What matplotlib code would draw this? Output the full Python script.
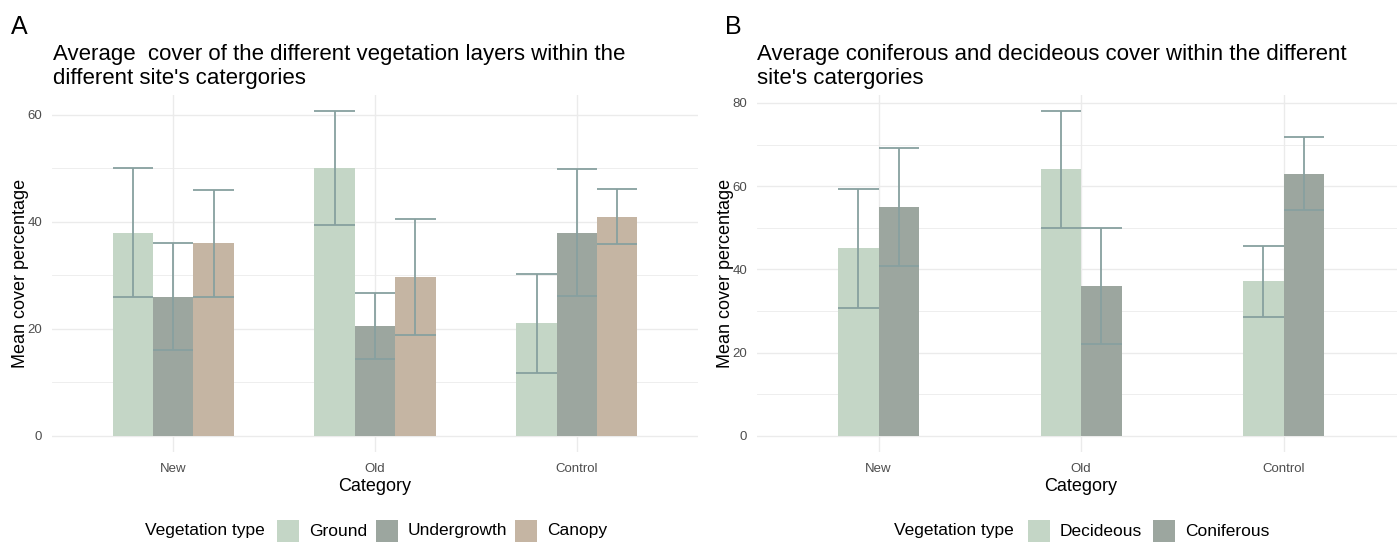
import matplotlib
matplotlib.use("Agg")
import matplotlib.pyplot as plt
from matplotlib.patches import Rectangle
import numpy as np

plt.rcParams['font.family'] = ['Liberation Sans', 'DejaVu Sans']

# ---- data ----
categories = ["New", "Old", "Control"]

layers = ["Ground", "Undergrowth", "Canopy"]
layer_means = {
    "Ground":      [38.0, 50.1, 21.0],
    "Undergrowth": [26.0, 20.5, 38.0],
    "Canopy":      [36.0, 29.7, 41.0],
}
layer_err = {
    "Ground":      [12.0, 10.6, 9.3],
    "Undergrowth": [10.0, 6.2, 11.9],
    "Canopy":      [10.0, 10.8, 5.1],
}

tree_types = ["Decideous", "Coniferous"]
tree_means = {
    "Decideous":  [45.1, 64.0, 37.1],
    "Coniferous": [55.0, 36.0, 63.0],
}
tree_err = {
    "Decideous":  [14.3, 14.0, 8.6],
    "Coniferous": [14.2, 14.0, 8.7],
}

colors = {
    "Ground": "#c4d6c6", "Undergrowth": "#9ca69f", "Canopy": "#c5b5a3",
    "Decideous": "#c4d6c6", "Coniferous": "#9ca69f",
}
err_color = "#87a09f"
grid_color = "#ebebeb"
tick_color = "#4d4d4d"

W, H = 1397, 542
fig = plt.figure(figsize=(W / 100, H / 100), dpi=100)


def px_box(x0, x1, ytop, ybot):
    return [x0 / W, 1 - ybot / H, (x1 - x0) / W, (ybot - ytop) / H]


def draw_panel(ax, groups, means, errs, ymax_major):
    n = len(groups)
    bw = 0.2
    x = np.arange(1, len(categories) + 1)
    offsets = (np.arange(n) - (n - 1) / 2) * bw
    tops = []
    for g, off in zip(groups, offsets):
        m = np.array(means[g])
        e = np.array(errs[g])
        ax.bar(x + off, m, width=bw, color=colors[g], zorder=2, linewidth=0)
        tops.append(m + e)
    for g, off in zip(groups, offsets):
        m = np.array(means[g])
        e = np.array(errs[g])
        xc = x + off
        ax.vlines(xc, m - e, m + e, color=err_color, lw=1.3, zorder=3)
        ax.hlines(m - e, xc - bw / 2, xc + bw / 2, color=err_color, lw=1.3, zorder=3)
        ax.hlines(m + e, xc - bw / 2, xc + bw / 2, color=err_color, lw=1.3, zorder=3)
    top = max(t.max() for t in tops)
    pad = 0.05 * top
    ax.set_ylim(-pad, top + pad)
    ax.set_xlim(0.4, len(categories) + 0.6)
    majors = np.arange(0, ymax_major + 1, 20)
    minors = np.arange(10, top + pad, 20)
    ax.set_yticks(majors)
    ax.set_yticks(minors, minor=True)
    ax.set_xticks(x)
    ax.set_xticklabels(categories)
    ax.grid(True, which="major", color=grid_color, lw=1.0, zorder=0)
    ax.grid(True, which="minor", axis="y", color=grid_color, lw=0.6, zorder=0)
    ax.set_axisbelow(True)
    for s in ax.spines.values():
        s.set_visible(False)
    ax.tick_params(which="both", length=0, colors=tick_color, labelsize=9.5)
    ax.tick_params(axis="y", pad=7)
    ax.tick_params(axis="x", pad=8)
    ax.set_xlabel("Category", fontsize=13, color="black", labelpad=2)
    ax.set_ylabel("Mean cover percentage", fontsize=13, color="black", labelpad=-1)


def draw_legend(groups, title_x, box_xs, y_center):
    fig.text(title_x / W, 1 - y_center / H, "Vegetation type", fontsize=12.5,
             va="center", ha="left")
    for g, bx in zip(groups, box_xs):
        fig.add_artist(Rectangle((bx / W, 1 - (y_center + 11) / H), 22 / W, 22 / H,
                                 transform=fig.transFigure, color=colors[g], lw=0))
        fig.text((bx + 32) / W, 1 - y_center / H, g, fontsize=12.5,
                 va="center", ha="left")


axA = fig.add_axes(px_box(52, 698, 95, 452))
draw_panel(axA, layers, layer_means, layer_err, 60)
axB = fig.add_axes(px_box(757, 1405, 95, 452))
draw_panel(axB, tree_types, tree_means, tree_err, 80)

fig.text(11 / W, 1 - 34 / H, "A", fontsize=18, va="baseline")
fig.text(725 / W, 1 - 34 / H, "B", fontsize=18, va="baseline")
fig.text(53 / W, 1 - 84 / H,
         "Average  cover of the different vegetation layers within the\ndifferent site's catergories",
         fontsize=16, va="baseline", ha="left", linespacing=1.17)
fig.text(757 / W, 1 - 84 / H,
         "Average coniferous and decideous cover within the different\nsite's catergories",
         fontsize=16, va="baseline", ha="left", linespacing=1.17)

draw_legend(layers, 145, [277, 376, 515], 531)
draw_legend(tree_types, 894, [1028, 1153], 531)

fig.savefig("out.png", dpi=100)
